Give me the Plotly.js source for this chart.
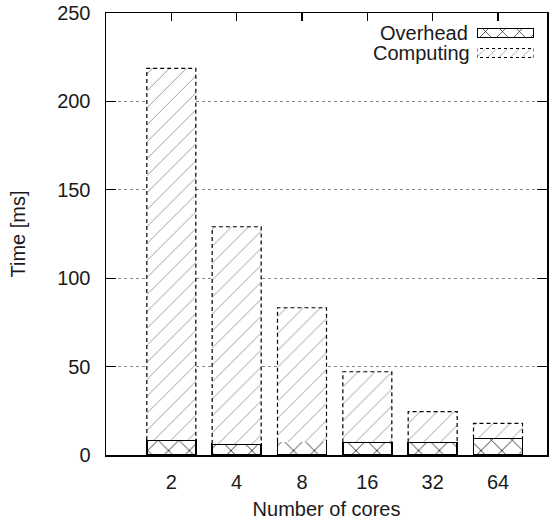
<!DOCTYPE html>
<html>
<head>
<meta charset="utf-8">
<script src="https://cdn.plot.ly/plotly-3.0.1.min.js"></script>
<style>html,body{margin:0;padding:0;background:#fff;}</style>
</head>
<body>
<div id="chart" style="width:557px;height:520px;"></div>
<script>
var cores = ['2', '4', '8', '16', '32', '64'];
var overhead = [8.5, 6.2, 7.5, 7.2, 7.2, 9.4];
var computing = [210.2, 122.9, 75.8, 39.9, 17.3, 8.5];
var legendNames = ['Overhead', 'Computing'];

var FONT = 'Liberation Sans, Arial, sans-serif';
var TXT = '#1a1a1a';
var idx = cores.map(function (c, i) { return i; });
var BW = 0.75;

// dashed outline for computing bars, derived from data
var ox = [], oy = [];
idx.forEach(function (i) {
  var b = overhead[i], t = overhead[i] + computing[i];
  ox.push(i - BW / 2, i - BW / 2, i + BW / 2, i + BW / 2, null);
  oy.push(b, t, t, b, null);
});

var traces = [
  {
    type: 'bar', x: idx, y: overhead, width: BW, name: legendNames[0],
    marker: { color: '#fff', line: { color: '#000', width: 1.5 },
      pattern: { shape: 'x', fgcolor: '#000', bgcolor: '#fff', size: 442 / 30, solidity: 0.1 } },
    showlegend: false, hoverinfo: 'skip'
  },
  {
    type: 'bar', x: idx, y: computing, width: BW, name: legendNames[1],
    marker: { color: '#fff', line: { color: '#000', width: 0 },
      pattern: { shape: '/', fgcolor: '#9a9a9a', bgcolor: '#fff', size: 12, solidity: 0.08 } },
    showlegend: false, hoverinfo: 'skip'
  },
  {
    type: 'scatter', mode: 'lines', x: ox, y: oy, connectgaps: false,
    line: { color: '#000', width: 1.2, dash: '4px,3px' },
    showlegend: false, hoverinfo: 'skip'
  },
  // legend swatches
  {
    type: 'bar', orientation: 'h', x: [1], y: [1.5], width: 0.45, base: 0,
    xaxis: 'x2', yaxis: 'y2',
    marker: { color: '#fff', line: { color: '#000', width: 1.5 },
      pattern: { shape: 'x', fgcolor: '#000', bgcolor: '#fff', size: 12, solidity: 0.1 } },
    showlegend: false, hoverinfo: 'skip'
  },
  {
    type: 'bar', orientation: 'h', x: [1], y: [0.5], width: 0.45, base: 0,
    xaxis: 'x2', yaxis: 'y2',
    marker: { color: '#fff', line: { color: '#000', width: 0 },
      pattern: { shape: '/', fgcolor: '#9a9a9a', bgcolor: '#fff', size: 8, solidity: 0.1 } },
    showlegend: false, hoverinfo: 'skip'
  },
  {
    type: 'scatter', mode: 'lines', x: [0, 0, 1, 1, 0], y: [0.275, 0.725, 0.725, 0.275, 0.275],
    xaxis: 'x2', yaxis: 'y2',
    line: { color: '#000', width: 1, dash: '3px,3px' },
    showlegend: false, hoverinfo: 'skip'
  }
];

var layout = {
  width: 557, height: 520,
  margin: { l: 106, r: 10, t: 13, b: 65 },
  paper_bgcolor: '#fff', plot_bgcolor: '#fff',
  barmode: 'stack',
  showlegend: false,
  font: { family: FONT, size: 20, color: TXT },
  xaxis: {
    range: [-1, 5.75], tickvals: idx, ticktext: cores,
    showgrid: false, zeroline: false,
    showline: true, linecolor: '#000', linewidth: 1.5, mirror: true,
    ticks: '', ticklabelstandoff: 8,
    tickfont: { family: FONT, size: 20, color: TXT },
    title: { text: 'Number of cores', font: { family: FONT, size: 20, color: TXT }, standoff: 12 }
  },
  xaxis3: {
    overlaying: 'x', side: 'top', range: [-1, 5.75], tickvals: idx,
    showticklabels: false, showgrid: false, zeroline: false, showline: false,
    ticks: 'inside', ticklen: 8, tickcolor: '#000', tickwidth: 1.2
  },
  yaxis: {
    range: [0, 250], dtick: 50, tick0: 0,
    showgrid: true, gridcolor: '#888', griddash: 'dot', gridwidth: 1,
    zeroline: false,
    showline: true, linecolor: '#000', linewidth: 1.5, mirror: 'ticks',
    ticks: 'inside', ticklen: 10, tickcolor: '#000', tickwidth: 1.2,
    ticklabelstandoff: 10,
    tickfont: { family: FONT, size: 20, color: TXT },
    title: { text: 'Time [ms]', font: { family: FONT, size: 20, color: TXT }, standoff: 26 }
  },
  xaxis2: {
    domain: [(477 - 106) / 441, (534 - 106) / 441], anchor: 'y2',
    range: [0, 1], visible: false, fixedrange: true
  },
  yaxis2: {
    domain: [(455 - 63) / 442, (455 - 23) / 442], anchor: 'x2',
    range: [0, 2], visible: false, fixedrange: true
  },
  annotations: [
    { xref: 'paper', yref: 'y2', x: (470 - 106) / 441, y: 1.5, text: legendNames[0],
      xanchor: 'right', yanchor: 'middle', showarrow: false,
      font: { family: FONT, size: 20, color: TXT } },
    { xref: 'paper', yref: 'y2', x: (472 - 106) / 441, y: 0.5, text: legendNames[1],
      xanchor: 'right', yanchor: 'middle', showarrow: false,
      font: { family: FONT, size: 20, color: TXT } }
  ]
};

// bind the top-tick axis to an invisible trace
traces.push({ type: 'scatter', mode: 'markers', x: [0], y: [0], xaxis: 'x3', yaxis: 'y',
  marker: { opacity: 0 }, showlegend: false, hoverinfo: 'skip' });

Plotly.newPlot('chart', traces, layout, { displayModeBar: false, staticPlot: true });
</script>
</body>
</html>
